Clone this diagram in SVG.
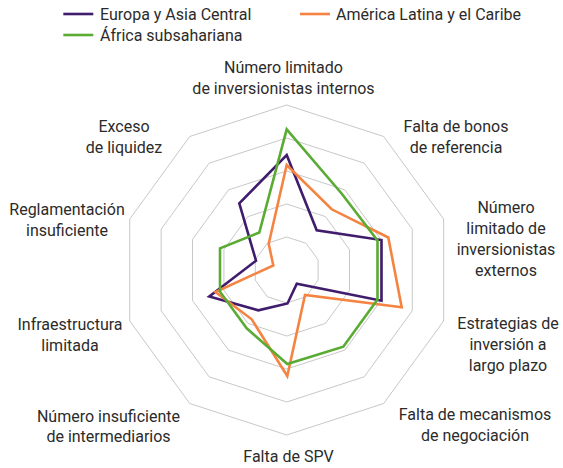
<svg xmlns="http://www.w3.org/2000/svg" width="563" height="468" viewBox="0 0 563 468">
<style>
.grid{fill:none;stroke:#c8c8c8;stroke-width:1}
.s{fill:none;stroke-width:2.6;stroke-linejoin:miter;stroke-miterlimit:10}
.eu{stroke:#3f1c6c}
.la{stroke:#f58443}
.af{stroke:#5aab33}
text{font-family:Roboto,"Liberation Sans","DejaVu Sans",sans-serif;font-size:16px;fill:#2b2b2b}
.c{text-anchor:middle}
</style>
<rect width="563" height="468" fill="#ffffff"/>
<g id="grid" transform="translate(286.7,270)">
<polygon class="grid" points="0,-165 96.99,-133.49 156.93,-50.99 156.93,50.99 96.99,133.49 0,165 -96.99,133.49 -156.93,50.99 -156.93,-50.99 -96.99,-133.49"/>
<polygon class="grid" points="0,-132 77.59,-106.79 125.55,-40.79 125.55,40.79 77.59,106.79 0,132 -77.59,106.79 -125.55,40.79 -125.55,-40.79 -77.59,-106.79"/>
<polygon class="grid" points="0,-99 58.19,-80.09 94.16,-30.59 94.16,30.59 58.19,80.09 0,99 -58.19,80.09 -94.16,30.59 -94.16,-30.59 -58.19,-80.09"/>
<polygon class="grid" points="0,-66 38.8,-53.39 62.77,-20.39 62.77,20.39 38.8,53.39 0,66 -38.8,53.39 -62.77,20.39 -62.77,-20.39 -38.8,-53.39"/>
<polygon class="grid" points="0,-33 19.4,-26.7 31.39,-10.2 31.39,10.2 19.4,26.7 0,33 -19.4,26.7 -31.39,10.2 -31.39,-10.2 -19.4,-26.7"/>
</g>
<g id="series">
<polygon id="europa" class="s eu" points="286.7,155 316.7,230.3 381.5,240 381.5,300.7 296.8,283.8 287.5,303.5 258.3,310.3 209.3,296.5 256,260.7 239.3,203.3"/>
<polygon id="america" class="s la" points="286.7,165 331.7,209.3 388.3,237.5 401.7,307.3 305,295 287.3,376 251.7,319.3 215.5,292 273.3,265.5 268.7,243.7"/>
<polygon id="africa" class="s af" points="286.7,129.3 342,194 377.5,240.5 377.5,299.5 343.3,346.7 287.3,364 246.7,328.3 220,291.7 220,248.3 259.3,232.5"/>
</g>
<g id="labels">
<g id="lbl-internos"><text class="c" x="283.5" y="72.5">Número limitado</text><text class="c" x="283.5" y="93.5">de inversionistas internos</text></g>
<g id="lbl-bonos"><text class="c" x="456" y="131.7">Falta de bonos</text><text class="c" x="456" y="152.7">de referencia</text></g>
<g id="lbl-externos"><text class="c" x="506" y="213.3">Número</text><text class="c" x="506" y="234.3">limitado de</text><text class="c" x="506" y="255.3">inversionistas</text><text class="c" x="506" y="276.3">externos</text></g>
<g id="lbl-estrategias"><text class="c" x="508" y="329.3">Estrategias de</text><text class="c" x="508" y="350.3">inversión a</text><text class="c" x="508" y="371.3">largo plazo</text></g>
<g id="lbl-mecanismos"><text class="c" x="475" y="420">Falta de mecanismos</text><text class="c" x="475" y="441">de negociación</text></g>
<g id="lbl-spv"><text class="c" x="288.5" y="461.7">Falta de SPV</text></g>
<g id="lbl-intermediarios"><text class="c" x="108.5" y="421.7">Número insuficiente</text><text class="c" x="108.5" y="442">de intermediarios</text></g>
<g id="lbl-infra"><text class="c" x="70" y="330">Infraestructura</text><text class="c" x="70" y="351">limitada</text></g>
<g id="lbl-regl"><text class="c" x="67" y="215">Reglamentación</text><text class="c" x="67" y="235.5">insuficiente</text></g>
<g id="lbl-liquidez"><text class="c" x="124" y="132.3">Exceso</text><text class="c" x="124" y="152.8">de liquidez</text></g>
</g>
<g id="legend">
<line class="s eu" x1="63.3" y1="14" x2="93.3" y2="14"/>
<text x="100" y="20">Europa y Asia Central</text>
<line class="s la" x1="300" y1="14" x2="330" y2="14"/>
<text x="336" y="20">América Latina y el Caribe</text>
<line class="s af" x1="63.3" y1="35" x2="93.3" y2="35"/>
<text x="100" y="41">África subsahariana</text>
</g>
</svg>
